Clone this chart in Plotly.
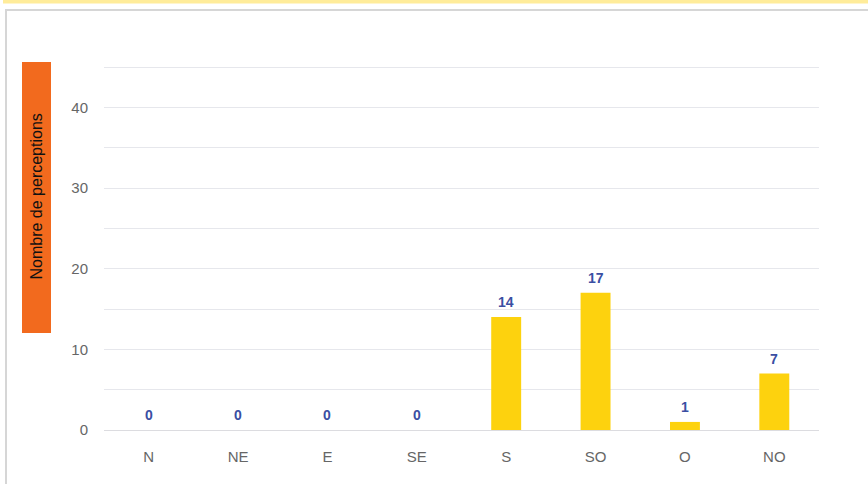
import plotly.graph_objects as go

categories = ["N", "NE", "E", "SE", "S", "SO", "O", "NO"]
values = [0, 0, 0, 0, 14, 17, 1, 7]
y_tick_values = [0, 10, 20, 30, 40, 45]
y_tick_labels = ["0", "10", "20", "30", "40", ""]
y_title = "Nombre de perceptions"

W, H = 868, 484
L, R, T, B = 104, 49, 65, 54
pw, ph = W - L - R, H - T - B
y_max = 45.25

def px_x(p):
    return (p - L) / pw

def px_y(p):
    return (H - B - p) / ph

fig = go.Figure()
fig.add_trace(go.Bar(
    x=categories, y=values,
    marker=dict(color="#FDD20E", line=dict(width=0)),
    hoverinfo="x+y",
))

annotations = []
for c, v in zip(categories, values):
    annotations.append(dict(
        x=c, y=v, xref="x", yref="y", text=str(v), showarrow=False,
        yanchor="bottom", yshift=5,
        font=dict(family="Liberation Sans, Arial", size=14, color="#3A4FA3", weight="bold"),
    ))

# y-axis title label
annotations.append(dict(
    x=px_x(36.5), y=px_y(197), xref="paper", yref="paper",
    text=y_title, textangle=-90, showarrow=False,
    xanchor="center", yanchor="middle",
    font=dict(family="Liberation Sans, Arial", size=16, color="#111111"),
))

shapes = [
    # top yellow band
    dict(type="rect", xref="paper", yref="paper", x0=px_x(3), x1=px_x(870),
         y0=px_y(3.5), y1=px_y(-1), fillcolor="#FFEC9A", line=dict(width=0), layer="below"),
    # gray top border
    dict(type="line", xref="paper", yref="paper", x0=px_x(5), x1=px_x(870),
         y0=px_y(10), y1=px_y(10), line=dict(color="#D6D6D6", width=2)),
    # gray left border
    dict(type="line", xref="paper", yref="paper", x0=px_x(6), x1=px_x(6),
         y0=px_y(9), y1=px_y(490), line=dict(color="#D6D6D6", width=2)),
    # orange title box
    dict(type="rect", xref="paper", yref="paper", x0=px_x(22), x1=px_x(51),
         y0=px_y(333), y1=px_y(62), fillcolor="#F26A1E", line=dict(width=0), layer="below"),
]

fig.update_layout(
    width=W, height=H,
    margin=dict(l=L, r=R, t=T, b=B, pad=0),
    paper_bgcolor="white", plot_bgcolor="white",
    showlegend=False,
    bargap=0.665,
    font=dict(family="Liberation Sans, Arial", size=15, color="#666666"),
    annotations=annotations,
    shapes=shapes,
    xaxis=dict(
        showgrid=False, showline=False, zeroline=False, ticks="",
        tickfont=dict(size=15, color="#666666"),
        ticklabelstandoff=16,
        fixedrange=True,
    ),
    yaxis=dict(
        range=[0, y_max], tickvals=y_tick_values, ticktext=y_tick_labels,
        showgrid=True, gridcolor="#E6E7EC", gridwidth=1,
        zeroline=True, zerolinecolor="#DCDCE0", zerolinewidth=1,
        showline=False, ticks="",
        tickfont=dict(size=15, color="#666666"),
        ticklabelstandoff=15,
        minor=dict(dtick=5, tick0=0, showgrid=True, gridcolor="#E6E7EC", gridwidth=1, ticks=""),
        fixedrange=True,
    ),
)

fig.write_html(
    "out.html",
    config={"displayModeBar": False},
    post_script="document.body.style.margin='0';document.body.style.padding='0';",
)
